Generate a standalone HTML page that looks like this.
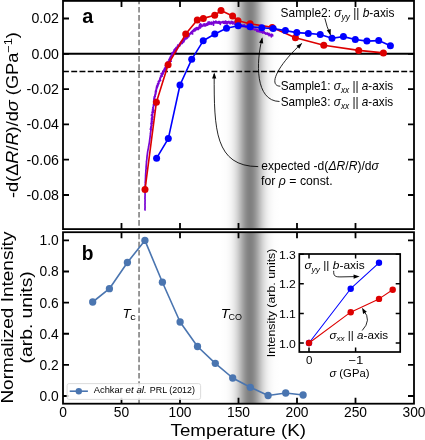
<!DOCTYPE html>
<html><head><meta charset="utf-8"><style>
html,body{margin:0;padding:0;background:#fff;}
svg{display:block; will-change:transform;}
text{font-family:"Liberation Sans", sans-serif; white-space:pre;}
</style></head><body>
<svg width="425" height="440" viewBox="0 0 425 440" style="font-family:'Liberation Sans', sans-serif">
<rect width="425" height="440" fill="#fff"/>
<defs><linearGradient id="band" x1="0" x2="1" y1="0" y2="0"><stop offset="0.0000" stop-color="#000" stop-opacity="0.0002"/><stop offset="0.0143" stop-color="#000" stop-opacity="0.0002"/><stop offset="0.0286" stop-color="#000" stop-opacity="0.0004"/><stop offset="0.0429" stop-color="#000" stop-opacity="0.0006"/><stop offset="0.0571" stop-color="#000" stop-opacity="0.0009"/><stop offset="0.0714" stop-color="#000" stop-opacity="0.0013"/><stop offset="0.0857" stop-color="#000" stop-opacity="0.0019"/><stop offset="0.1000" stop-color="#000" stop-opacity="0.0028"/><stop offset="0.1143" stop-color="#000" stop-opacity="0.0041"/><stop offset="0.1286" stop-color="#000" stop-opacity="0.0057"/><stop offset="0.1429" stop-color="#000" stop-opacity="0.0081"/><stop offset="0.1571" stop-color="#000" stop-opacity="0.0111"/><stop offset="0.1714" stop-color="#000" stop-opacity="0.0152"/><stop offset="0.1857" stop-color="#000" stop-opacity="0.0204"/><stop offset="0.2000" stop-color="#000" stop-opacity="0.0272"/><stop offset="0.2143" stop-color="#000" stop-opacity="0.0356"/><stop offset="0.2286" stop-color="#000" stop-opacity="0.0461"/><stop offset="0.2429" stop-color="#000" stop-opacity="0.0588"/><stop offset="0.2571" stop-color="#000" stop-opacity="0.0741"/><stop offset="0.2714" stop-color="#000" stop-opacity="0.0922"/><stop offset="0.2857" stop-color="#000" stop-opacity="0.1131"/><stop offset="0.3000" stop-color="#000" stop-opacity="0.1370"/><stop offset="0.3143" stop-color="#000" stop-opacity="0.1637"/><stop offset="0.3286" stop-color="#000" stop-opacity="0.1931"/><stop offset="0.3429" stop-color="#000" stop-opacity="0.2248"/><stop offset="0.3571" stop-color="#000" stop-opacity="0.2583"/><stop offset="0.3714" stop-color="#000" stop-opacity="0.2928"/><stop offset="0.3857" stop-color="#000" stop-opacity="0.3276"/><stop offset="0.4000" stop-color="#000" stop-opacity="0.3617"/><stop offset="0.4143" stop-color="#000" stop-opacity="0.3942"/><stop offset="0.4286" stop-color="#000" stop-opacity="0.4239"/><stop offset="0.4429" stop-color="#000" stop-opacity="0.4498"/><stop offset="0.4571" stop-color="#000" stop-opacity="0.4711"/><stop offset="0.4714" stop-color="#000" stop-opacity="0.4870"/><stop offset="0.4857" stop-color="#000" stop-opacity="0.4967"/><stop offset="0.5000" stop-color="#000" stop-opacity="0.5000"/><stop offset="0.5143" stop-color="#000" stop-opacity="0.4967"/><stop offset="0.5286" stop-color="#000" stop-opacity="0.4870"/><stop offset="0.5429" stop-color="#000" stop-opacity="0.4711"/><stop offset="0.5571" stop-color="#000" stop-opacity="0.4498"/><stop offset="0.5714" stop-color="#000" stop-opacity="0.4239"/><stop offset="0.5857" stop-color="#000" stop-opacity="0.3942"/><stop offset="0.6000" stop-color="#000" stop-opacity="0.3617"/><stop offset="0.6143" stop-color="#000" stop-opacity="0.3276"/><stop offset="0.6286" stop-color="#000" stop-opacity="0.2928"/><stop offset="0.6429" stop-color="#000" stop-opacity="0.2583"/><stop offset="0.6571" stop-color="#000" stop-opacity="0.2248"/><stop offset="0.6714" stop-color="#000" stop-opacity="0.1931"/><stop offset="0.6857" stop-color="#000" stop-opacity="0.1637"/><stop offset="0.7000" stop-color="#000" stop-opacity="0.1370"/><stop offset="0.7143" stop-color="#000" stop-opacity="0.1131"/><stop offset="0.7286" stop-color="#000" stop-opacity="0.0922"/><stop offset="0.7429" stop-color="#000" stop-opacity="0.0741"/><stop offset="0.7571" stop-color="#000" stop-opacity="0.0588"/><stop offset="0.7714" stop-color="#000" stop-opacity="0.0461"/><stop offset="0.7857" stop-color="#000" stop-opacity="0.0356"/><stop offset="0.8000" stop-color="#000" stop-opacity="0.0272"/><stop offset="0.8143" stop-color="#000" stop-opacity="0.0204"/><stop offset="0.8286" stop-color="#000" stop-opacity="0.0152"/><stop offset="0.8429" stop-color="#000" stop-opacity="0.0111"/><stop offset="0.8571" stop-color="#000" stop-opacity="0.0081"/><stop offset="0.8714" stop-color="#000" stop-opacity="0.0057"/><stop offset="0.8857" stop-color="#000" stop-opacity="0.0041"/><stop offset="0.9000" stop-color="#000" stop-opacity="0.0028"/><stop offset="0.9143" stop-color="#000" stop-opacity="0.0019"/><stop offset="0.9286" stop-color="#000" stop-opacity="0.0013"/><stop offset="0.9429" stop-color="#000" stop-opacity="0.0009"/><stop offset="0.9571" stop-color="#000" stop-opacity="0.0006"/><stop offset="0.9714" stop-color="#000" stop-opacity="0.0004"/><stop offset="0.9857" stop-color="#000" stop-opacity="0.0002"/><stop offset="1.0000" stop-color="#000" stop-opacity="0.0002"/></linearGradient></defs><rect x="215" y="0.9" width="70" height="228.2" fill="url(#band)"/><rect x="215" y="232.2" width="70" height="171.5" fill="url(#band)"/><line x1="139.05" y1="0.9" x2="139.05" y2="229.1" stroke="#808080" stroke-width="1.6" stroke-dasharray="5.6 2.6" stroke-dashoffset="2.2"/><line x1="63.0" y1="53.80" x2="414.0" y2="53.80" stroke="#000" stroke-width="2.1"/><line x1="63.0" y1="71.55" x2="414.0" y2="71.55" stroke="#000" stroke-width="1.6" stroke-dasharray="5.9 2.35"/><polyline points="144.97,210.70 145.05,209.93 144.89,209.02 145.02,208.52 144.98,207.98 145.11,207.42 144.94,206.84 145.08,206.23 144.96,205.59 145.07,204.93 144.90,204.26 145.10,203.56 144.96,202.84 145.11,202.11 144.96,201.36 145.10,200.60 145.00,199.83 145.09,199.04 144.88,198.25 145.07,197.45 144.97,196.64 145.12,195.83 145.01,195.01 145.11,194.19 145.02,193.37 145.15,192.55 145.02,191.73 145.17,190.92 145.04,190.11 145.21,189.31 145.08,188.51 145.24,187.73 145.11,186.95 145.27,186.19 145.19,185.43 145.27,184.70 145.22,183.98 145.44,183.29 145.18,182.60 145.39,181.93 145.27,181.25 145.43,180.58 145.34,179.90 145.55,179.23 145.44,178.54 145.56,177.87 145.52,177.18 145.60,176.50 145.52,175.82 145.69,175.15 145.61,174.46 145.77,173.79 145.67,173.11 145.84,172.44 145.80,171.77 145.96,171.10 145.81,170.42 146.00,169.77 145.99,169.11 146.16,168.46 146.03,167.79 146.20,167.15 146.11,166.50 146.25,165.86 146.21,165.22 146.35,164.60 146.32,163.96 146.46,163.35 146.43,162.73 146.56,162.13 146.43,161.52 146.68,160.94 146.64,160.35 146.80,159.78 146.76,159.20 146.97,158.65 146.86,158.08 147.02,157.54 146.92,156.99 147.09,156.48 147.03,155.95 147.20,155.46 147.18,154.96 147.37,154.50 147.33,154.02 147.49,153.57 147.41,153.10 147.63,152.23 147.68,151.37 147.92,150.56 147.98,149.75 148.25,148.98 148.30,148.19 148.54,147.43 148.56,146.64 148.83,145.89 148.82,145.08 149.09,144.31 149.14,143.49 149.36,142.67 149.39,141.80 149.72,140.94 149.56,140.45 149.78,140.01 149.68,139.52 149.84,139.05 149.86,138.56 150.01,138.08 149.97,137.57 150.13,137.08 150.10,136.57 150.24,136.06 150.21,135.54 150.36,135.03 150.35,134.50 150.51,133.99 150.34,133.44 150.61,132.94 150.59,132.40 150.69,131.87 150.68,131.33 150.92,130.81 150.82,130.26 151.21,129.76 150.25,129.11 151.14,128.67 150.78,128.09 151.42,127.61 150.72,127.00 151.43,126.54 151.13,125.97 151.88,125.51 151.27,124.92 151.77,124.44 150.93,123.83 152.16,123.44 151.27,122.82 152.07,122.39 151.38,121.81 152.16,121.39 151.42,120.81 152.02,120.38 151.60,119.84 152.68,119.48 151.40,118.85 152.35,118.48 152.00,117.96 152.71,117.57 151.68,116.98 152.86,116.63 152.22,116.09 152.49,115.65 151.32,115.06 152.79,114.75 151.92,114.20 152.70,113.82 152.50,113.33 153.21,112.95 152.06,112.37 153.97,112.12 152.32,111.05 154.06,110.34 152.53,109.29 153.30,108.50 152.84,107.59 153.61,106.82 153.23,105.94 154.13,105.22 153.36,104.30 154.08,103.59 153.76,102.75 154.70,102.10 153.56,101.17 154.74,100.59 153.83,99.71 154.83,99.15 153.91,98.29 154.81,97.74 154.12,96.93 155.25,96.45 154.81,95.70 155.33,95.14 154.97,94.42 155.88,93.95 155.23,93.17 155.96,92.69 155.31,91.91 156.32,91.50 155.66,90.71 156.37,90.25 156.06,89.53 156.67,89.04 156.29,88.30 157.20,87.93 156.42,87.07 157.55,86.79 156.76,85.92 158.06,85.73 157.37,84.88 158.14,84.53 157.63,83.74 158.90,83.59 158.33,82.77 158.91,82.38 158.34,81.54 159.37,81.33 159.10,80.60 160.59,80.59 159.68,79.58 160.28,79.20 159.85,78.37 160.58,78.03 160.41,77.31 161.18,77.00 160.61,76.08 162.26,76.20 161.52,75.18 162.14,74.83 161.09,73.64 163.15,74.01 162.31,72.90 163.33,72.75 162.93,71.86 163.88,71.66 163.33,70.68 164.98,70.84 163.93,69.58 165.62,69.75 164.44,68.42 166.14,68.56 165.41,67.45 166.75,67.38 165.28,65.88 167.06,65.97 166.22,64.77 168.00,64.81 167.14,63.57 168.08,63.18 167.36,61.99 169.39,62.11 168.50,60.83 171.16,61.25 168.94,59.32 170.75,59.36 169.78,58.04 171.20,57.92 170.43,56.71 171.44,56.43 171.12,55.47 172.72,55.58 171.89,54.37 173.00,54.30 171.95,52.95 173.77,53.41 172.95,52.21 174.32,52.45 173.75,51.41 175.93,52.32 173.83,50.18 175.86,51.07 174.65,49.53 176.18,50.10 175.14,48.67 176.95,49.52 175.81,47.99 176.82,48.22 176.36,47.23 177.84,47.87 177.34,46.85 178.04,46.83 177.56,45.83 179.07,46.48 177.96,44.93 179.85,45.93 179.25,44.82 180.27,45.12 179.60,43.63 180.94,43.94 180.38,42.53 182.24,43.38 181.09,41.40 183.04,42.36 182.09,40.55 184.03,41.52 183.04,39.64 184.55,40.17 184.50,39.19 185.20,39.22 184.65,38.06 186.04,38.75 185.60,37.68 186.95,38.32 186.36,37.09 187.58,37.61 186.87,36.26 188.14,36.84 187.82,35.86 188.94,36.31 188.13,34.84 189.16,35.22 188.84,34.23 189.79,34.57 189.83,33.64 190.80,33.72 190.59,32.54 192.63,33.95 191.56,31.77 192.49,31.95 192.37,30.88 193.69,31.61 193.25,30.11 194.50,30.85 194.09,29.35 195.63,30.59 194.87,28.53 196.18,29.51 195.85,28.03 197.39,29.45 196.84,27.57 198.54,29.37 197.97,27.51 198.88,28.10 198.87,27.15 199.90,28.07 199.24,25.82 200.65,27.56 199.68,24.37 201.29,26.67 200.70,23.91 202.25,26.26 202.53,25.39 203.36,25.90 203.42,24.15 204.71,25.90 204.52,23.88 205.62,25.81 205.55,24.03 206.46,25.39 206.52,23.91 207.36,25.06 207.35,23.18 208.24,24.56 208.12,22.04 209.21,24.29 209.18,21.86 210.15,23.82 210.41,22.52 211.30,24.29 211.42,22.05 212.22,23.53 212.63,22.75 213.53,25.19 213.55,21.32 214.33,22.96 214.78,21.88 215.47,22.90 215.87,21.02 216.64,22.87 217.16,22.07 217.83,22.98 218.33,21.57 219.02,23.03 219.54,21.63 220.26,24.31 220.77,22.08 221.38,22.57 221.96,21.98 222.55,22.57 223.13,21.39 223.70,23.15 224.29,21.70 224.83,23.45 225.45,21.19 225.96,23.26 226.59,21.55 227.03,24.13 227.71,21.82 228.23,22.57 228.87,21.47 229.29,23.28 229.96,22.13 230.36,23.75 231.19,21.42 231.56,23.05 232.33,21.63 232.57,23.91 233.43,22.14 233.75,23.73 234.66,21.99 234.78,24.38 235.80,22.41 235.88,24.67 236.85,23.20 237.15,24.44 238.16,23.08 238.28,24.79 239.12,24.14 239.52,24.90 240.40,24.20 240.52,25.77 241.49,24.85 241.62,26.38 242.69,25.21 242.88,26.54 244.16,24.78 244.18,26.62 245.10,25.87 245.30,27.18 246.28,26.22 246.57,27.33 247.63,26.05 247.74,27.71 249.06,25.54 248.95,27.91 249.82,27.14 250.12,28.19 251.03,27.26 250.95,29.50 252.60,26.27 252.25,29.37 253.21,28.34 253.55,29.28 254.27,29.06 254.66,29.86 255.56,29.11 255.92,30.04 256.85,29.29 256.86,31.33 257.97,30.09 258.17,31.59 259.35,30.26 259.59,31.84 260.76,30.80 261.05,32.45 262.48,30.89 262.64,33.03 264.08,31.56 264.38,33.36 265.51,32.80 265.94,34.22 267.29,33.00 267.67,34.45 268.95,33.29 268.96,35.61 270.21,34.31 270.52,35.54 271.68,34.24 271.35,36.91 272.64,34.87 272.59,36.36" fill="none" stroke="#7a05d4" stroke-width="1.7" stroke-linejoin="round"/><polyline points="145.00,189.60 156.40,102.20 168.10,64.70 185.70,34.10 197.30,19.90 203.30,18.40 214.70,15.30 221.00,10.60 232.60,15.90 238.00,20.80 250.10,23.80 272.20,27.40 295.40,37.80 323.80,45.20 358.70,50.40 383.40,52.90" fill="none" stroke="#dd0000" stroke-width="1.6" stroke-linejoin="round"/><circle cx="145.00" cy="189.60" r="3.5" fill="#dd0000"/><circle cx="156.40" cy="102.20" r="3.5" fill="#dd0000"/><circle cx="168.10" cy="64.70" r="3.5" fill="#dd0000"/><circle cx="185.70" cy="34.10" r="3.5" fill="#dd0000"/><circle cx="197.30" cy="19.90" r="3.5" fill="#dd0000"/><circle cx="203.30" cy="18.40" r="3.5" fill="#dd0000"/><circle cx="214.70" cy="15.30" r="3.5" fill="#dd0000"/><circle cx="221.00" cy="10.60" r="3.5" fill="#dd0000"/><circle cx="232.60" cy="15.90" r="3.5" fill="#dd0000"/><circle cx="238.00" cy="20.80" r="3.5" fill="#dd0000"/><circle cx="250.10" cy="23.80" r="3.5" fill="#dd0000"/><circle cx="272.20" cy="27.40" r="3.5" fill="#dd0000"/><circle cx="295.40" cy="37.80" r="3.5" fill="#dd0000"/><circle cx="323.80" cy="45.20" r="3.5" fill="#dd0000"/><circle cx="358.70" cy="50.40" r="3.5" fill="#dd0000"/><circle cx="383.40" cy="52.90" r="3.5" fill="#dd0000"/><polyline points="156.60,158.20 168.30,138.60 180.00,85.00 191.70,59.30 203.20,40.80 214.80,34.00 226.50,28.30 238.20,25.80 250.10,26.80 261.80,27.70 273.20,28.60 285.40,30.60 296.80,32.60 308.30,33.40 320.20,34.50 332.00,38.20 343.40,36.60 355.30,39.50 366.90,41.10 378.70,40.60 390.40,45.80" fill="none" stroke="#0000ff" stroke-width="1.6" stroke-linejoin="round"/><circle cx="156.60" cy="158.20" r="3.5" fill="#0000ff"/><circle cx="168.30" cy="138.60" r="3.5" fill="#0000ff"/><circle cx="180.00" cy="85.00" r="3.5" fill="#0000ff"/><circle cx="191.70" cy="59.30" r="3.5" fill="#0000ff"/><circle cx="203.20" cy="40.80" r="3.5" fill="#0000ff"/><circle cx="214.80" cy="34.00" r="3.5" fill="#0000ff"/><circle cx="226.50" cy="28.30" r="3.5" fill="#0000ff"/><circle cx="238.20" cy="25.80" r="3.5" fill="#0000ff"/><circle cx="250.10" cy="26.80" r="3.5" fill="#0000ff"/><circle cx="261.80" cy="27.70" r="3.5" fill="#0000ff"/><circle cx="273.20" cy="28.60" r="3.5" fill="#0000ff"/><circle cx="285.40" cy="30.60" r="3.5" fill="#0000ff"/><circle cx="296.80" cy="32.60" r="3.5" fill="#0000ff"/><circle cx="308.30" cy="33.40" r="3.5" fill="#0000ff"/><circle cx="320.20" cy="34.50" r="3.5" fill="#0000ff"/><circle cx="332.00" cy="38.20" r="3.5" fill="#0000ff"/><circle cx="343.40" cy="36.60" r="3.5" fill="#0000ff"/><circle cx="355.30" cy="39.50" r="3.5" fill="#0000ff"/><circle cx="366.90" cy="41.10" r="3.5" fill="#0000ff"/><circle cx="378.70" cy="40.60" r="3.5" fill="#0000ff"/><circle cx="390.40" cy="45.80" r="3.5" fill="#0000ff"/><path d="M324.8,18.2 Q326.8,27 330.4,34.8" fill="none" stroke="#000" stroke-width="0.85"/><polygon points="330.60,35.40 326.78,30.32 330.78,29.05" fill="#000"/><path d="M280.3,86.2 C268,86 277,66 301.5,43.6" fill="none" stroke="#000" stroke-width="0.85"/><polygon points="302.20,43.00 299.33,48.67 296.42,45.64" fill="#000"/><path d="M279.5,101.5 C255,101 256,62 262.1,38.5" fill="none" stroke="#000" stroke-width="0.85"/><polygon points="262.30,37.30 263.22,43.59 259.10,42.79" fill="#000"/><path d="M258.2,166.6 C215,166.4 214,130 214.2,74" fill="none" stroke="#000" stroke-width="0.85"/><polygon points="214.25,72.50 216.30,78.52 212.10,78.48" fill="#000"/><g transform="translate(280.60,16.90) scale(0.9939,1.0000)" fill="#000"><text xml:space="preserve" x="0.00" y="-0.00" font-size="12.00">Sample2: </text><text xml:space="preserve" x="54.03" y="-0.00" font-size="12.00" font-style="italic">σ</text><text xml:space="preserve" x="61.27" y="3.00" font-size="8.40" font-style="italic">yy</text><text xml:space="preserve" x="69.67" y="-0.00" font-size="12.00"> || </text><text xml:space="preserve" x="82.57" y="-0.00" font-size="12.00" font-style="italic">b</text><text xml:space="preserve" x="89.24" y="-0.00" font-size="12.00">-axis</text></g><g transform="translate(280.70,89.80) scale(0.9826,1.0000)" fill="#000"><text xml:space="preserve" x="0.00" y="-0.00" font-size="12.00">Sample1: </text><text xml:space="preserve" x="54.03" y="-0.00" font-size="12.00" font-style="italic">σ</text><text xml:space="preserve" x="61.27" y="3.00" font-size="8.40" font-style="italic">xx</text><text xml:space="preserve" x="69.67" y="-0.00" font-size="12.00"> || </text><text xml:space="preserve" x="82.57" y="-0.00" font-size="12.00" font-style="italic">a</text><text xml:space="preserve" x="89.24" y="-0.00" font-size="12.00">-axis</text></g><g transform="translate(280.70,105.60) scale(0.9826,1.0000)" fill="#000"><text xml:space="preserve" x="0.00" y="-0.00" font-size="12.00">Sample3: </text><text xml:space="preserve" x="54.03" y="-0.00" font-size="12.00" font-style="italic">σ</text><text xml:space="preserve" x="61.27" y="3.00" font-size="8.40" font-style="italic">xx</text><text xml:space="preserve" x="69.67" y="-0.00" font-size="12.00"> || </text><text xml:space="preserve" x="82.57" y="-0.00" font-size="12.00" font-style="italic">a</text><text xml:space="preserve" x="89.24" y="-0.00" font-size="12.00">-axis</text></g><g transform="translate(261.20,170.00) scale(1.0081,1.0000)" fill="#000"><text xml:space="preserve" x="0.00" y="-0.00" font-size="12.00">expected -d(</text><text xml:space="preserve" x="66.70" y="-0.00" font-size="12.00" font-style="italic">ΔR</text><text xml:space="preserve" x="83.42" y="-0.00" font-size="12.00">/</text><text xml:space="preserve" x="86.76" y="-0.00" font-size="12.00" font-style="italic">R</text><text xml:space="preserve" x="95.42" y="-0.00" font-size="12.00">)/d</text><text xml:space="preserve" x="109.43" y="-0.00" font-size="12.00" font-style="italic">σ</text></g><g transform="translate(261.10,184.80) scale(1.0243,1.0000)" fill="#000"><text xml:space="preserve" x="0.00" y="-0.00" font-size="12.00">for </text><text xml:space="preserve" x="17.34" y="-0.00" font-size="12.00" font-style="italic">ρ</text><text xml:space="preserve" x="24.21" y="-0.00" font-size="12.00"> = const.</text></g><g transform="translate(82.30,23.00) scale(0.9956,1.0000)" fill="#000"><text xml:space="preserve" x="0.00" y="-0.00" font-size="20.00" font-weight="bold">a</text></g><line x1="139.05" y1="232.2" x2="139.05" y2="403.7" stroke="#808080" stroke-width="1.6" stroke-dasharray="5.6 2.6" stroke-dashoffset="6.8"/><polyline points="92.70,302.00 109.40,288.70 127.40,262.50 144.90,240.40 162.40,282.20 180.10,322.00 197.50,346.50 215.30,363.30 232.70,378.00 250.30,387.30 268.10,395.50 285.70,393.00 303.10,395.00" fill="none" stroke="#4a75b0" stroke-width="1.6" stroke-linejoin="round"/><circle cx="92.70" cy="302.00" r="3.65" fill="#4a75b0"/><circle cx="109.40" cy="288.70" r="3.65" fill="#4a75b0"/><circle cx="127.40" cy="262.50" r="3.65" fill="#4a75b0"/><circle cx="144.90" cy="240.40" r="3.65" fill="#4a75b0"/><circle cx="162.40" cy="282.20" r="3.65" fill="#4a75b0"/><circle cx="180.10" cy="322.00" r="3.65" fill="#4a75b0"/><circle cx="197.50" cy="346.50" r="3.65" fill="#4a75b0"/><circle cx="215.30" cy="363.30" r="3.65" fill="#4a75b0"/><circle cx="232.70" cy="378.00" r="3.65" fill="#4a75b0"/><circle cx="250.30" cy="387.30" r="3.65" fill="#4a75b0"/><circle cx="268.10" cy="395.50" r="3.65" fill="#4a75b0"/><circle cx="285.70" cy="393.00" r="3.65" fill="#4a75b0"/><circle cx="303.10" cy="395.00" r="3.65" fill="#4a75b0"/><g transform="translate(122.50,317.90) scale(1.0448,1.0000)" fill="#000"><text xml:space="preserve" x="0.00" y="-0.00" font-size="13.00" font-style="italic">T</text></g><g transform="translate(130.20,319.90) scale(1.1579,1.0000)" fill="#000"><text xml:space="preserve" x="0.00" y="-0.00" font-size="9.50">c</text></g><g transform="translate(220.80,318.20) scale(1.1022,1.0000)" fill="#000"><text xml:space="preserve" x="0.00" y="-0.00" font-size="13.00" font-style="italic">T</text></g><g transform="translate(228.40,319.80) scale(0.9474,1.0000)" fill="#000"><text xml:space="preserve" x="0.00" y="-0.00" font-size="9.50">CO</text></g><g transform="translate(81.80,260.00) scale(0.9590,1.0000)" fill="#000"><text xml:space="preserve" x="0.00" y="-0.00" font-size="20.00" font-weight="bold">b</text></g><rect x="299.3" y="254.0" width="100.89999999999998" height="98.0" fill="#fff" stroke="none"/><polyline points="309.00,343.00 350.70,288.70 379.00,262.80" fill="none" stroke="#0000ff" stroke-width="1.05" stroke-linejoin="round"/><circle cx="309.00" cy="343.00" r="3.2" fill="#0000ff"/><circle cx="350.70" cy="288.70" r="3.2" fill="#0000ff"/><circle cx="379.00" cy="262.80" r="3.2" fill="#0000ff"/><polyline points="309.00,343.00 350.70,312.20 379.00,298.90 392.70,289.80" fill="none" stroke="#dd0000" stroke-width="1.05" stroke-linejoin="round"/><circle cx="309.00" cy="343.00" r="3.2" fill="#dd0000"/><circle cx="350.70" cy="312.20" r="3.2" fill="#dd0000"/><circle cx="379.00" cy="298.90" r="3.2" fill="#dd0000"/><circle cx="392.70" cy="289.80" r="3.2" fill="#dd0000"/><path d="M333.7,270.8 C333.4,276.6 335.5,276.9 341,276.9 L355,276.6" fill="none" stroke="#000" stroke-width="0.85"/><polygon points="359.60,276.40 353.66,278.66 353.55,274.46" fill="#000"/><path d="M362.2,330.5 Q372,320 363.6,310.5" fill="none" stroke="#000" stroke-width="0.85"/><polygon points="362.00,307.70 366.80,311.87 363.15,313.95" fill="#000"/><g transform="translate(304.40,269.00) scale(1.1379,1.0000)" fill="#000"><text xml:space="preserve" x="0.00" y="-0.00" font-size="10.50" font-style="italic">σ</text><text xml:space="preserve" x="6.33" y="2.62" font-size="7.35" font-style="italic">yy</text><text xml:space="preserve" x="13.68" y="-0.00" font-size="10.50"> || </text><text xml:space="preserve" x="24.97" y="-0.00" font-size="10.50" font-style="italic">b</text><text xml:space="preserve" x="30.81" y="-0.00" font-size="10.50">-axis</text></g><g transform="translate(329.40,338.70) scale(1.1096,1.0000)" fill="#000"><text xml:space="preserve" x="0.00" y="-0.00" font-size="10.50" font-style="italic">σ</text><text xml:space="preserve" x="6.33" y="2.62" font-size="7.35" font-style="italic">xx</text><text xml:space="preserve" x="13.68" y="-0.00" font-size="10.50"> || </text><text xml:space="preserve" x="24.97" y="-0.00" font-size="10.50" font-style="italic">a</text><text xml:space="preserve" x="30.81" y="-0.00" font-size="10.50">-axis</text></g><g transform="translate(278.94,347.50) scale(1.0800,1)" fill="#000"><text xml:space="preserve" x="0.00" y="-0.00" font-size="11.30">1.0</text></g><g transform="translate(278.94,317.90) scale(1.0800,1)" fill="#000"><text xml:space="preserve" x="0.00" y="-0.00" font-size="11.30">1.1</text></g><g transform="translate(278.94,288.30) scale(1.0800,1)" fill="#000"><text xml:space="preserve" x="0.00" y="-0.00" font-size="11.30">1.2</text></g><g transform="translate(278.94,258.70) scale(1.0800,1)" fill="#000"><text xml:space="preserve" x="0.00" y="-0.00" font-size="11.30">1.3</text></g><path d="M299.3,343.00h4.5M400.2,343.00h-4.5M299.3,313.40h4.5M400.2,313.40h-4.5M299.3,283.80h4.5M400.2,283.80h-4.5M299.3,254.20h4.5M400.2,254.20h-4.5M309.00,254.0v4.5M309.00,352.0v-4.5M355.60,254.0v4.5M355.60,352.0v-4.5" stroke="#000" stroke-width="1.5" fill="none"/><rect x="299.3" y="254.0" width="100.89999999999998" height="98.0" fill="none" stroke="#000" stroke-width="1.7"/><g transform="translate(306.09,363.60) scale(1.0500,1)" fill="#000"><text xml:space="preserve" x="0.00" y="-0.00" font-size="11.00">0</text></g><g transform="translate(348.20,363.60) scale(1.2041,1.0000)" fill="#000"><text xml:space="preserve" x="0.00" y="-0.00" font-size="11.00">−1</text></g><g transform="translate(329.40,377.00) scale(1.0275,1.0000)" fill="#000"><text xml:space="preserve" x="0.00" y="-0.00" font-size="11.00" font-style="italic">σ</text><text xml:space="preserve" x="6.63" y="-0.00" font-size="11.00"> (GPa)</text></g><g transform="translate(274.80,357.20) rotate(-90) scale(1.0753,1.0000)" fill="#000"><text xml:space="preserve" x="0.00" y="-0.00" font-size="11.50">Intensity (arb. units)</text></g><g transform="translate(31.40,23.40) scale(1.0270,1.0000)" fill="#000"><text xml:space="preserve" x="0.00" y="-0.00" font-size="13.80">0.02</text></g><g transform="translate(31.40,58.70) scale(1.0270,1.0000)" fill="#000"><text xml:space="preserve" x="0.00" y="-0.00" font-size="13.80">0.00</text></g><g transform="translate(26.60,94.00) scale(1.0297,1.0000)" fill="#000"><text xml:space="preserve" x="0.00" y="-0.00" font-size="13.80">-0.02</text></g><g transform="translate(26.60,129.30) scale(1.0297,1.0000)" fill="#000"><text xml:space="preserve" x="0.00" y="-0.00" font-size="13.80">-0.04</text></g><g transform="translate(26.60,164.60) scale(1.0297,1.0000)" fill="#000"><text xml:space="preserve" x="0.00" y="-0.00" font-size="13.80">-0.06</text></g><g transform="translate(26.60,199.90) scale(1.0297,1.0000)" fill="#000"><text xml:space="preserve" x="0.00" y="-0.00" font-size="13.80">-0.08</text></g><g transform="translate(39.52,400.90) scale(1.0000,1)" fill="#000"><text xml:space="preserve" x="0.00" y="-0.00" font-size="13.80">0.0</text></g><g transform="translate(39.52,369.78) scale(1.0000,1)" fill="#000"><text xml:space="preserve" x="0.00" y="-0.00" font-size="13.80">0.2</text></g><g transform="translate(39.52,338.66) scale(1.0000,1)" fill="#000"><text xml:space="preserve" x="0.00" y="-0.00" font-size="13.80">0.4</text></g><g transform="translate(39.52,307.54) scale(1.0000,1)" fill="#000"><text xml:space="preserve" x="0.00" y="-0.00" font-size="13.80">0.6</text></g><g transform="translate(39.52,276.42) scale(1.0000,1)" fill="#000"><text xml:space="preserve" x="0.00" y="-0.00" font-size="13.80">0.8</text></g><g transform="translate(39.52,245.30) scale(1.0000,1)" fill="#000"><text xml:space="preserve" x="0.00" y="-0.00" font-size="13.80">1.0</text></g><g transform="translate(59.17,416.80) scale(1.0000,1)" fill="#000"><text xml:space="preserve" x="0.00" y="-0.00" font-size="13.80">0</text></g><g transform="translate(113.82,416.80) scale(1.0000,1)" fill="#000"><text xml:space="preserve" x="0.00" y="-0.00" font-size="13.80">50</text></g><g transform="translate(168.49,416.80) scale(1.0000,1)" fill="#000"><text xml:space="preserve" x="0.00" y="-0.00" font-size="13.80">100</text></g><g transform="translate(226.99,416.80) scale(1.0000,1)" fill="#000"><text xml:space="preserve" x="0.00" y="-0.00" font-size="13.80">150</text></g><g transform="translate(285.49,416.80) scale(1.0000,1)" fill="#000"><text xml:space="preserve" x="0.00" y="-0.00" font-size="13.80">200</text></g><g transform="translate(343.99,416.80) scale(1.0000,1)" fill="#000"><text xml:space="preserve" x="0.00" y="-0.00" font-size="13.80">250</text></g><g transform="translate(402.49,416.80) scale(1.0000,1)" fill="#000"><text xml:space="preserve" x="0.00" y="-0.00" font-size="13.80">300</text></g><path d="M63.0,18.50h6.0M414.0,18.50h-6.0M63.0,53.80h6.0M414.0,53.80h-6.0M63.0,89.10h6.0M414.0,89.10h-6.0M63.0,124.40h6.0M414.0,124.40h-6.0M63.0,159.70h6.0M414.0,159.70h-6.0M63.0,195.00h6.0M414.0,195.00h-6.0M121.50,0.9v6.0M121.50,229.1v-6.0M121.50,232.2v6.0M121.50,403.7v-6.0M180.00,0.9v6.0M180.00,229.1v-6.0M180.00,232.2v6.0M180.00,403.7v-6.0M238.50,0.9v6.0M238.50,229.1v-6.0M238.50,232.2v6.0M238.50,403.7v-6.0M297.00,0.9v6.0M297.00,229.1v-6.0M297.00,232.2v6.0M297.00,403.7v-6.0M355.50,0.9v6.0M355.50,229.1v-6.0M355.50,232.2v6.0M355.50,403.7v-6.0M63.0,396.00h6.0M414.0,396.00h-6.0M63.0,364.88h6.0M414.0,364.88h-6.0M63.0,333.76h6.0M414.0,333.76h-6.0M63.0,302.64h6.0M414.0,302.64h-6.0M63.0,271.52h6.0M414.0,271.52h-6.0M63.0,240.40h6.0M414.0,240.40h-6.0" stroke="#000" stroke-width="1.8" fill="none"/><rect x="63.0" y="0.9" width="351.0" height="228.2" fill="none" stroke="#000" stroke-width="1.8"/><rect x="63.0" y="232.2" width="351.0" height="171.5" fill="none" stroke="#000" stroke-width="1.8"/><rect x="67.1" y="383.6" width="133.5" height="15.8" rx="2" ry="2" fill="#fff" fill-opacity="0.85" stroke="#d8d8d8" stroke-width="0.9"/><line x1="69.7" y1="391.2" x2="87.9" y2="391.2" stroke="#4a75b0" stroke-width="1.6"/><circle cx="78.8" cy="391.2" r="3.2" fill="#4a75b0"/><g transform="translate(93.80,393.40) scale(1.0388,1.0000)" fill="#000"><text xml:space="preserve" x="0.00" y="-0.00" font-size="9.00">Achkar</text></g><g transform="translate(125.60,393.40) scale(1.0868,1.0000)" fill="#000"><text xml:space="preserve" x="0.00" y="-0.00" font-size="9.00" font-style="italic">et al.</text></g><g transform="translate(149.80,393.40) scale(0.9891,1.0000)" fill="#000"><text xml:space="preserve" x="0.00" y="-0.00" font-size="9.00">PRL (2012)</text></g><g transform="translate(170.60,435.50) scale(1.1497,1.0000)" fill="#000"><text xml:space="preserve" x="0.00" y="-0.00" font-size="16.30">Temperature (K)</text></g><g transform="translate(12.70,403.60) rotate(-90) scale(1.1879,1.0000)" fill="#000"><text xml:space="preserve" x="0.00" y="-0.00" font-size="16.00">Normalized Intensity</text></g><g transform="translate(31.50,363.40) rotate(-90) scale(1.2055,1.0000)" fill="#000"><text xml:space="preserve" x="0.00" y="-0.00" font-size="16.00">(arb. units)</text></g><g transform="translate(18.20,198.10) rotate(-90) scale(1.1370,1.0000)" fill="#000"><text xml:space="preserve" x="0.00" y="-0.00" font-size="16.00">-d(Δ</text><text xml:space="preserve" x="30.24" y="-0.00" font-size="16.00" font-style="italic">R</text><text xml:space="preserve" x="41.80" y="-0.00" font-size="16.00">/</text><text xml:space="preserve" x="46.24" y="-0.00" font-size="16.00" font-style="italic">R</text><text xml:space="preserve" x="57.80" y="-0.00" font-size="16.00">)/d</text><text xml:space="preserve" x="76.47" y="-0.00" font-size="16.00" font-style="italic">σ</text><text xml:space="preserve" x="86.12" y="-0.00" font-size="16.00"> (GPa</text><text xml:space="preserve" x="127.91" y="-6.40" font-size="11.20">−1</text><text xml:space="preserve" x="140.68" y="-0.00" font-size="16.00">)</text></g>
</svg></body></html>
